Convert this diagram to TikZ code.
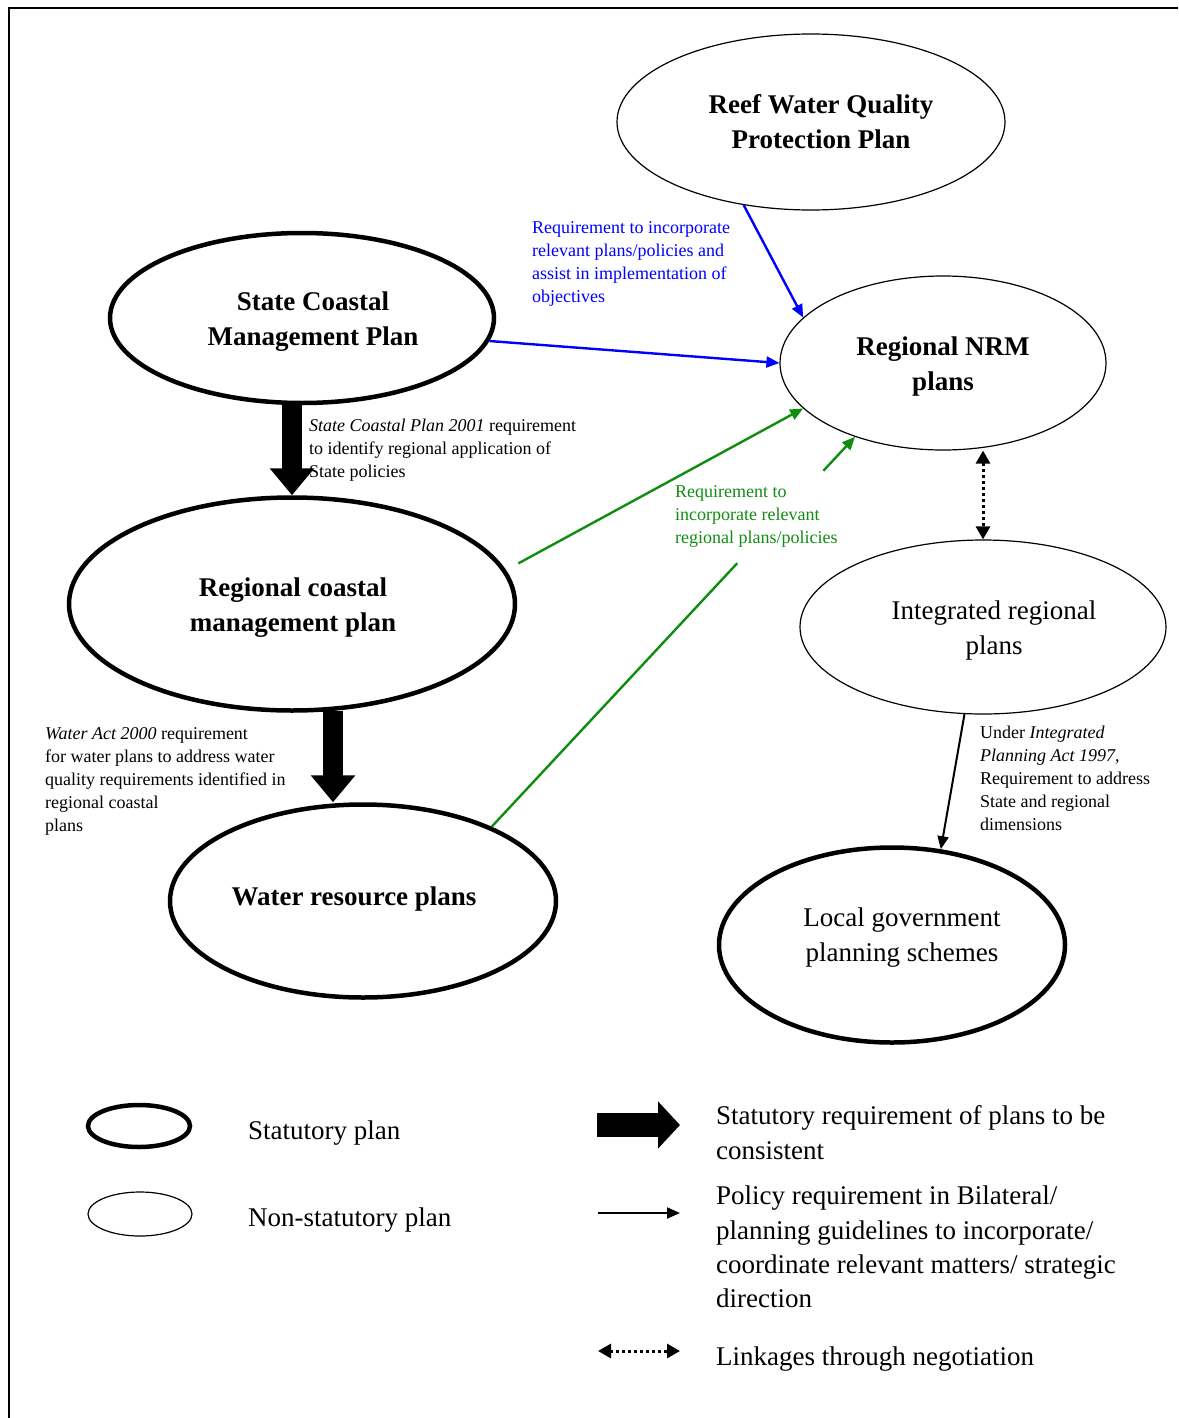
\documentclass[tikz,border=0pt]{standalone}
\usepackage{fontspec}
\setmainfont{Liberation Serif}
\usetikzlibrary{shapes.geometric,arrows.meta,calc}
\definecolor{linkblue}{RGB}{0,0,255}
\definecolor{linkgreen}{RGB}{16,140,16}
\begin{document}
\begin{tikzpicture}[x=1pt,y=-1pt,
  bigtxt/.style={font=\fontsize{27}{35}\selectfont},
  bigbold/.style={font=\fontsize{27}{35}\selectfont\bfseries},
  lbl/.style={align=center, inner sep=0pt},
  smalltxt/.style={font=\fontsize{18}{23}\selectfont, align=left, inner sep=0pt, anchor=north west},
  stat/.style={ellipse, draw, line width=4.5pt, inner sep=0pt, align=center},
  nonstat/.style={ellipse, draw, line width=1.2pt, inner sep=0pt, align=center},
  bigarrow/.style={line width=20pt, -{Triangle[length=27pt,width=43pt]}},
  bluearrow/.style={draw=linkblue, line width=2.4pt, -{Triangle[length=13pt,width=11pt]}, color=linkblue},
  greenline/.style={draw=linkgreen, line width=2.4pt},
  greenarrow/.style={greenline, -{Triangle[length=13pt,width=11pt]}, color=linkgreen},
  blackarrow/.style={line width=2pt, -{Triangle[length=13pt,width=11pt]}},
  dotarrow/.style={line width=3pt, dash pattern=on 3pt off 3pt, {Triangle[length=13pt,width=14pt]}-{Triangle[length=13pt,width=14pt]}},
]
\useasboundingbox (0,0) rectangle (1178,1418);
\draw[line width=1.5pt] (9,1418) -- (9,8) -- (1178,8);

% plans
\node[nonstat, minimum width=388pt, minimum height=176pt,
  label={[lbl, bigbold, xshift=10pt]center:{Reef Water Quality\\Protection Plan}}] (reef) at (811,122) {};
\node[stat, minimum width=384pt, minimum height=170pt,
  label={[lbl, bigbold, xshift=11pt, yshift=-4pt]center:{State Coastal\\Management Plan}}] (scm) at (302,318) {};
\node[nonstat, minimum width=326pt, minimum height=174pt,
  label={[lbl, bigbold, yshift=-4pt]center:{Regional NRM\\plans}}] (nrm) at (943,363) {};
\node[stat, minimum width=446pt, minimum height=213pt,
  label={[lbl, bigbold, xshift=1pt, yshift=-4pt]center:{Regional coastal\\management plan}}] (rcm) at (292,604) {};
\node[nonstat, minimum width=366pt, minimum height=174pt,
  label={[lbl, bigtxt, xshift=11pt, yshift=-3pt]center:{Integrated regional\\plans}}] (irp) at (983,627) {};
\node[stat, minimum width=386pt, minimum height=193pt,
  label={[lbl, bigbold, xshift=-9pt, yshift=2pt]center:{Water resource plans}}] (wrp) at (363,901) {};
\node[stat, minimum width=346pt, minimum height=195pt,
  label={[lbl, bigtxt, xshift=10pt, yshift=7pt]center:{Local government\\planning schemes}}] (lgp) at (892,945) {};

% connectors
\draw[bigarrow] (rcm.north |- scm.south) -- (rcm.north);
\draw[bigarrow] (rcm.-69) -- (rcm.-69 |- wrp.north);
\draw[bluearrow] (reef.-129) -- (nrm.162);
\draw[bluearrow] (scm.-7) -- (nrm.west);
\draw[greenarrow, shorten <=14pt] (rcm.9) -- (nrm.-162);
\draw[greenline] (wrp.30) -- ($(wrp.30)!0.676!(nrm.-140)$);
\draw[greenarrow] ($(wrp.30)!0.913!(nrm.-140)$) -- (nrm.-140);
\draw[dotarrow] (irp.north |- nrm.south) -- (irp.north);
\draw[blackarrow] (irp.-102) -- (lgp.63);

% labels
\node[smalltxt, text=linkblue] (lblue) at (532,221) {Requirement to incorporate\\relevant plans/policies and\\assist in implementation of\\objectives};
\node[smalltxt] (lscp) at (309,419) {\textit{State Coastal Plan 2001} requirement\\to identify regional application of\\State policies};
\node[smalltxt, text=linkgreen] (lgreen) at (675,485) {Requirement to\\incorporate relevant\\regional plans/policies};
\node[smalltxt] (lwater) at (45,727) {\textit{Water Act 2000} requirement\\for water plans to address water\\quality requirements identified in\\regional coastal\\plans};
\node[smalltxt] (lipa) at (980,726) {Under \textit{Integrated}\\\textit{Planning Act 1997},\\Requirement to address\\State and regional\\dimensions};

% legend
\node[stat, minimum width=102pt, minimum height=42pt] (legstat) at (139,1126) {};
\node[nonstat, minimum width=104pt, minimum height=44pt] (legnon) at (140,1214) {};
\node[bigtxt, anchor=west, inner sep=0pt] (legstattxt) at (248,1133) {Statutory plan};
\node[bigtxt, anchor=west, inner sep=0pt] (legnontxt) at (248,1220) {Non-statutory plan};

\coordinate (la1) at (597,1125);
\coordinate (la2) at (680,1125);
\coordinate (lb1) at (598,1213);
\coordinate (lb2) at (680,1213);
\coordinate (lc1) at (598,1351);
\coordinate (lc2) at (680,1351);
\draw[line width=24pt, -{Triangle[length=22pt,width=46pt]}] (la1) -- (la2);
\draw[blackarrow] (lb1) -- (lb2);
\draw[dotarrow] (lc1) -- (lc2);

\node[bigtxt, align=left, anchor=north west, inner sep=0pt] (legatxt) at (716,1105) {Statutory requirement of plans to be\\consistent};
\node[align=left, anchor=north west, inner sep=0pt, font=\fontsize{27}{34.3}\selectfont] (legbtxt) at (716,1186) {Policy requirement in Bilateral/\\planning guidelines to incorporate/\\coordinate relevant matters/ strategic\\direction};
\node[bigtxt, anchor=west, inner sep=0pt] (legctxt) at (716,1359) {Linkages through negotiation};
\end{tikzpicture}
\end{document}
